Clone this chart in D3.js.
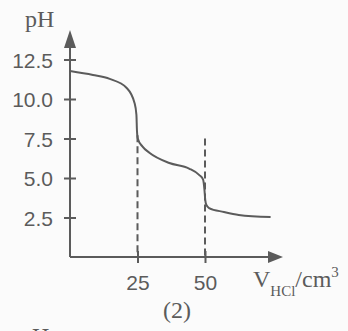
<!DOCTYPE html>
<html>
<head>
<meta charset="utf-8">
<script src="https://cdn.jsdelivr.net/npm/d3@7"></script>
<style>
  body { margin: 0; background: #fbfbfb; }
  svg { display: block; }
</style>
</head>
<body>
<div id="chart"></div>
<script>
// titration curve (2): pH vs volume of HCl added
const width = 348;
const height = 331;

const volume = [0, 8.5, 14.7, 21, 23.9, 24.6, 24.8, 25.1, 26.8, 29.4, 36.8, 44.1, 47.8, 49.3, 49.8, 50.1, 50.5, 51.5, 57, 62.5, 74.3];
const pH     = [11.77, 11.52, 11.27, 10.7, 9.75, 9.0, 8.0, 7.5, 7.0, 6.6, 5.95, 5.6, 5.2, 4.9, 4.25, 3.6, 3.3, 3.1, 2.85, 2.66, 2.53];

const yTicks = [2.5, 5.0, 7.5, 10.0, 12.5];
const xTicks = [25, 50];
const dashTop = [7.7, 7.5]; // where the dashed equivalence lines stop

const ink = "#5b5b5b";

const svg = d3.select("#chart")
  .append("svg")
  .attr("width", width)
  .attr("height", height);

const x = d3.scaleLinear().domain([0, 50]).range([70, 205]);
const y = d3.scaleLinear().domain([0, 12.5]).range([257, 59.5]);

// axis lines with arrow heads
svg.append("line")
  .attr("x1", x(0)).attr("x2", x(0))
  .attr("y1", y(0)).attr("y2", 44)
  .attr("stroke", ink).attr("stroke-width", 2);
svg.append("path")
  .attr("d", `M${x(0)},30 L${x(0) - 6},48 L${x(0) + 6},48 Z`)
  .attr("fill", ink);

svg.append("line")
  .attr("x1", x(0)).attr("x2", 270)
  .attr("y1", y(0)).attr("y2", y(0))
  .attr("stroke", ink).attr("stroke-width", 2);
svg.append("path")
  .attr("d", `M283,${y(0)} L268,${y(0) - 6} L268,${y(0) + 6} Z`)
  .attr("fill", ink);

// y ticks crossing the axis
const yAxis = svg.append("g")
  .attr("transform", `translate(${x(0)},0)`)
  .call(d3.axisLeft(y).tickValues(yTicks).tickFormat(d3.format(".1f")).tickSize(6).tickPadding(11));
yAxis.select(".domain").remove();
yAxis.selectAll(".tick line")
  .attr("x1", 6).attr("x2", -6)
  .attr("stroke", ink).attr("stroke-width", 2);
yAxis.selectAll(".tick text")
  .attr("fill", ink)
  .attr("font-family", "Liberation Sans, Arial, sans-serif")
  .attr("font-size", 21)
  .attr("dy", "0.36em");

// x ticks
const xAxis = svg.append("g")
  .attr("transform", `translate(0,${y(0)})`)
  .call(d3.axisBottom(x).tickValues(xTicks).tickFormat(d3.format("d")).tickSize(6).tickPadding(12));
xAxis.select(".domain").remove();
xAxis.selectAll(".tick line")
  .attr("y1", -6).attr("y2", 6)
  .attr("stroke", ink).attr("stroke-width", 2);
xAxis.selectAll(".tick text")
  .attr("fill", ink)
  .attr("font-family", "Liberation Sans, Arial, sans-serif")
  .attr("font-size", 21)
  .attr("dy", "0.71em");

// dashed equivalence lines
svg.selectAll(".eq")
  .data(xTicks)
  .join("line")
  .attr("class", "eq")
  .attr("x1", d => x(d)).attr("x2", d => x(d))
  .attr("y1", (d, i) => y(dashTop[i])).attr("y2", y(0))
  .attr("stroke", ink).attr("stroke-width", 2)
  .attr("stroke-dasharray", "7,4");

// curve
const pts = volume.map((v, i) => [v, pH[i]]);
svg.append("path")
  .datum(pts)
  .attr("fill", "none")
  .attr("stroke", ink)
  .attr("stroke-width", 2)
  .attr("d", d3.line()
    .x(d => x(d[0]))
    .y(d => y(d[1]))
    .curve(d3.curveMonotoneX));

// labels
const serif = "Liberation Serif, Times New Roman, serif";
svg.append("text")
  .attr("x", 25).attr("y", 27)
  .attr("font-family", serif).attr("font-size", 24)
  .attr("fill", ink)
  .text("pH");

const xl = svg.append("text")
  .attr("x", 253).attr("y", 287)
  .attr("font-family", serif).attr("font-size", 24)
  .attr("fill", ink);
xl.append("tspan").text("V");
xl.append("tspan").attr("font-size", 15).attr("dy", 9).text("HCl");
xl.append("tspan").attr("dy", -9).text("/cm");
xl.append("tspan").attr("font-size", 15).attr("dy", -10).text("3");

svg.append("text")
  .attr("x", 177).attr("y", 318)
  .attr("text-anchor", "middle")
  .attr("font-family", serif).attr("font-size", 24)
  .attr("fill", ink)
  .text("(2)");

svg.append("text")
  .attr("x", 20).attr("y", 344)
  .attr("font-family", serif).attr("font-size", 24)
  .attr("fill", ink)
  .text("pH");
</script>
</body>
</html>
